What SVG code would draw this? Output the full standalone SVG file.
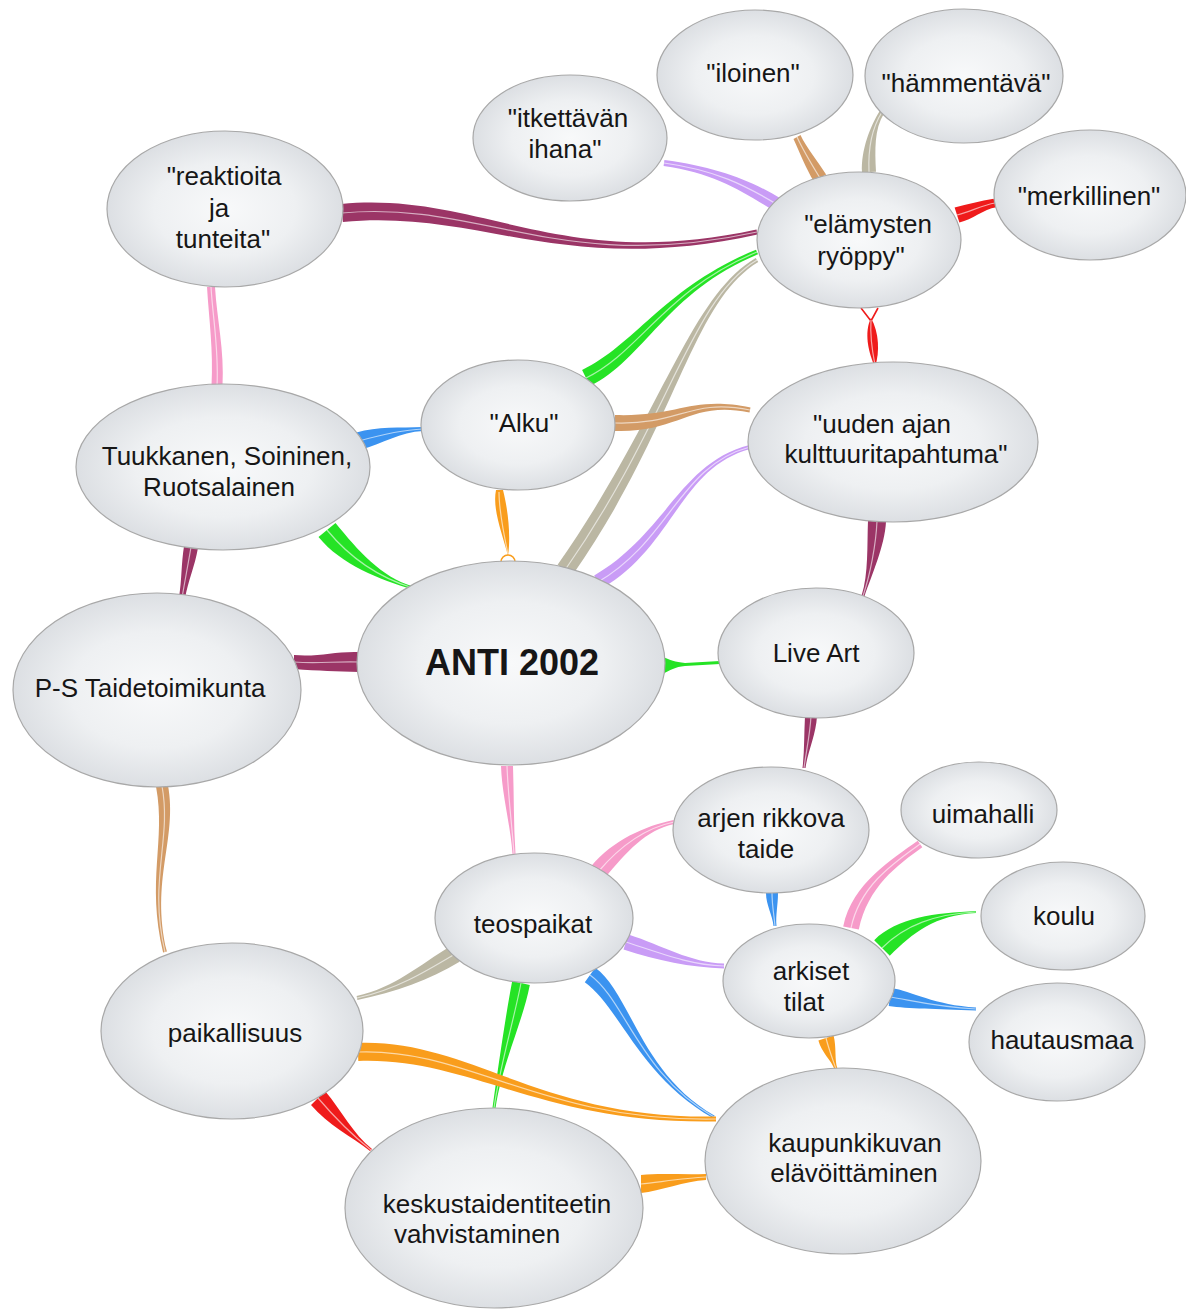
<svg xmlns="http://www.w3.org/2000/svg" width="1186" height="1309" viewBox="0 0 1186 1309">
<defs>
<radialGradient id="ng" cx="50%" cy="50%" r="50%">
<stop offset="0" stop-color="#f8f9fa"/>
<stop offset="0.6" stop-color="#eef0f2"/>
<stop offset="1" stop-color="#dcdfe3"/>
</radialGradient>
<style>
.mr{fill:#9b3566}.lv{fill:#c99cf6}.tn{fill:#d39b66}.gy{fill:#bbb7a3}.rd{fill:#ef1b1b}
.gn{fill:#25e325}.bl{fill:#3b93f0}.or{fill:#f99d1c}.pk{fill:#f69bc9}
.hl{fill:none;stroke:#fff;stroke-width:1.2;stroke-opacity:0.6}
.node ellipse{fill:url(#ng);stroke:#a8a8a8;stroke-width:1.2}
.node text{font-family:"Liberation Sans",Arial,sans-serif;font-size:26px;fill:#161616;text-anchor:middle}
.node text.big{font-size:36px;font-weight:bold}
</style>
</defs>
<rect width="1186" height="1309" fill="#fff"/>
<g id="connectors">
<path class="mr" d="M342.9,222 C480.9,209 560.5,277.4 757.5,234.4 L756.5,229.6 C559.5,272.6 479.1,191 341.1,204 Z"/>
<path class="hl" d="M342,213 C480,200 560,275 757,232"/>
<path class="lv" d="M663.6,166 C714.6,173 741.4,191 774.4,211 L781.6,199 C748.6,179 715.4,167 664.4,160 Z"/>
<path class="hl" d="M664,163 C715,170 745,185 778,205"/>
<path class="tn" d="M793.5,139 C799.5,152 805.9,168.4 813.9,181.4 L826.1,174.6 C818.1,161.6 806.5,148 800.5,135 Z"/>
<path class="hl" d="M797,137 C803,150 812,165 820,178"/>
<path class="gy" d="M879.9,110.7 C869.9,126.7 861,150.3 862,172.3 L876,171.7 C875,149.7 874.1,129.3 884.1,113.3 Z"/>
<path class="hl" d="M882,112 C872,128 868,150 869,172"/>
<path class="rd" d="M959.4,222.6 C972.4,219.6 983.4,209.3 996.4,207.3 L993.6,198.7 C980.6,200.7 967.6,204.4 954.6,207.4 Z"/>
<path class="hl" d="M957,215 C970,212 982,205 995,203"/>
<path class="rd" d="M871,318 C864,332 868,352 875,367 C880,352 879,332 871,318 Z"/>
<path d="M861,308 L871,321 L878,308" fill="none" stroke="#ef1b1b" stroke-width="1.6"/>
<path class="hl" d="M871,320 C870,335 872,350 875,365"/>
<path class="gn" d="M589.9,386.1 C643.9,360.1 666,292.3 758,254.3 L756,249.7 C664,287.7 636.1,343.9 582.1,369.9 Z"/>
<path class="hl" d="M586,378 C640,352 665,290 757,252"/>
<path class="gy" d="M755.7,257.9 C688.7,297.9 662.6,414.8 557.6,564.8 L572.4,575.2 C677.4,425.2 691.3,302.1 758.3,262.1 Z"/>
<path class="hl" d="M757,260 C690,300 670,420 565,570"/>
<path class="tn" d="M615,431 C680,433 689.5,400.5 749.5,412.5 L750.5,407.5 C690.5,395.5 680,417 615,415 Z"/>
<path class="hl" d="M615,423 C680,425 690,398 750,410"/>
<path class="lv" d="M749.5,445.1 C679.5,463.1 666.2,533.5 594.2,575.5 L601.8,588.5 C673.8,546.5 680.5,466.9 750.5,448.9 Z"/>
<path class="hl" d="M750,447 C680,465 670,540 598,582"/>
<path class="bl" d="M361.6,449.6 C382.6,443.6 400.1,432 423.1,431 L422.9,427 C399.9,428 377.4,426.4 356.4,432.4 Z"/>
<path class="hl" d="M359,441 C380,435 400,430 423,429"/>
<path class="or" d="M496,490 C492,510 503,535 508,556 C511,535 508,510 503,490 Z"/>
<circle cx="508" cy="562" r="7" fill="none" stroke="#f99d1c" stroke-width="1.6"/>
<path class="hl" d="M499,492 C499,512 504,535 508,554"/>
<path class="gn" d="M318.5,537 C341.5,565 379.6,579.4 412.6,589.4 L413.4,586.6 C380.4,576.6 358.5,551 335.5,523 Z"/>
<path class="hl" d="M327,530 C350,558 380,578 413,588"/>
<path class="pk" d="M207,287 C209,320 213.5,350 211.5,386 L222.5,386 C224.5,350 217,320 215,287 Z"/>
<path class="hl" d="M211,287 C213,320 219,350 217,386"/>
<path class="mr" d="M184.1,545.8 C181.1,563.8 182,579.5 179,597.5 L185,598.5 C188,580.5 194.9,566.2 197.9,548.2 Z"/>
<path class="hl" d="M191,547 C188,565 185,580 182,598"/>
<path class="mr" d="M294,669 C320,671 335,671 360,672 L360,652 C335,651 320,657 294,655 Z"/>
<path class="hl" d="M294,662 C320,664 335,661 360,662"/>
<path class="gn" d="M663,657 C670,660 675,662 685,663 L720,661 L720,664 L685,666 C675,667 670,670 663,674 Z"/>
<path class="mr" d="M868,520.6 C867,544.6 868.6,574.5 861.6,595.5 L864.4,596.5 C871.4,575.5 885,545.4 886,521.4 Z"/>
<path class="hl" d="M877,521 C876,545 870,575 863,596"/>
<path class="mr" d="M805,716 C804,735 804.5,752 802.5,768 L805.5,768 C807.5,752 816,735 817,716 Z"/>
<path class="hl" d="M811,716 C810,735 806,752 804,768"/>
<path class="pk" d="M501,766 C502,795 510.5,825 512.5,854 L515.5,854 C513.5,825 514,795 513,766 Z"/>
<path class="hl" d="M507,766 C508,795 512,825 514,854"/>
<path class="tn" d="M156.1,787.1 C166.1,841.1 146.1,880.5 163.1,952.5 L166.9,951.5 C149.9,879.5 177.9,838.9 167.9,784.9 Z"/>
<path class="hl" d="M162,786 C172,840 148,880 165,952"/>
<path class="pk" d="M604.9,877.8 C626.9,851.8 645.4,830 674.4,824 L673.6,820 C644.6,826 613.1,840.2 591.1,866.2 Z"/>
<path class="hl" d="M598,872 C620,846 645,828 674,822"/>
<path class="bl" d="M766,893 C766,905 772.5,915 773.5,926 L776.5,926 C775.5,915 778,905 778,893 Z"/>
<path class="hl" d="M772,893 C772,905 774,915 775,926"/>
<path class="pk" d="M917.7,840.8 C892.7,858.8 852.2,883.4 843.2,926.4 L858.8,929.6 C867.8,886.6 897.3,865.2 922.3,847.2 Z"/>
<path class="hl" d="M920,844 C895,862 860,885 851,928"/>
<path class="gn" d="M889.8,955.8 C912.8,932.8 935,915 976,913 L976,911 C935,913 897.2,917.2 874.2,940.2 Z"/>
<path class="hl" d="M882,948 C905,925 935,914 976,912"/>
<path class="bl" d="M888.7,1005.9 C908.7,1008.9 935,1008.5 976,1010.5 L976,1007.5 C935,1005.5 911.3,991.1 891.3,988.1 Z"/>
<path class="hl" d="M890,997 C910,1000 935,1007 976,1009"/>
<path class="lv" d="M623.5,949.6 C657.5,960.6 690,967.5 724,968.5 L724,963.5 C690,962.5 662.5,945.4 628.5,934.4 Z"/>
<path class="hl" d="M626,942 C660,953 690,965 724,966"/>
<path class="or" d="M818.4,1040.5 C821.4,1052.5 831.6,1060.5 834.6,1069.5 L837.4,1068.5 C834.4,1059.5 836.6,1047.5 833.6,1035.5 Z"/>
<path class="hl" d="M826,1038 C829,1050 833,1060 836,1069"/>
<path class="gy" d="M450.4,946.3 C420.4,964.3 394.6,988 356.6,996 L357.4,1000 C395.4,992 429.6,979.7 459.6,961.7 Z"/>
<path class="hl" d="M455,954 C425,972 395,990 357,998"/>
<path class="gn" d="M512.2,981.1 C505.2,1018.1 498.5,1064.7 492.5,1107.7 L495.5,1108.3 C501.5,1065.3 522.8,1021.9 529.8,984.9 Z"/>
<path class="hl" d="M521,983 C514,1020 500,1065 494,1108"/>
<path class="bl" d="M584.8,982.3 C619.8,1007.3 639.3,1076.3 713.3,1118.3 L714.7,1115.7 C640.7,1073.7 630.2,992.7 595.2,967.7 Z"/>
<path class="hl" d="M590,975 C625,1000 640,1075 714,1117"/>
<path class="or" d="M358.3,1061 C470.3,1057 540,1124.5 716,1121.5 L716,1116.5 C540,1119.5 469.7,1039 357.7,1043 Z"/>
<path class="hl" d="M358,1052 C470,1048 540,1122 716,1119"/>
<path class="rd" d="M311,1105.1 C328,1125.1 351,1136.1 370,1151.1 L372,1148.9 C353,1133.9 342,1110.9 325,1090.9 Z"/>
<path class="hl" d="M318,1098 C335,1118 352,1135 371,1150"/>
<path class="or" d="M641,1193 C660,1191 685,1181 706,1180 L706,1174 C685,1175 660,1173 641,1175 Z"/>
<path class="hl" d="M641,1184 C660,1182 685,1178 706,1177"/>
</g>
<g id="n-itkettavan" class="node"><ellipse cx="570" cy="138" rx="97" ry="63"/><text x="568" y="127">"itkettävän</text><text x="565" y="158">ihana"</text></g>
<g id="n-iloinen" class="node"><ellipse cx="755" cy="75" rx="98" ry="65"/><text x="753" y="82">"iloinen"</text></g>
<g id="n-hammentava" class="node"><ellipse cx="964" cy="76" rx="99" ry="67"/><text x="966" y="92">"hämmentävä"</text></g>
<g id="n-merkillinen" class="node"><ellipse cx="1090" cy="195" rx="96" ry="65"/><text x="1089" y="205">"merkillinen"</text></g>
<g id="n-elamysten" class="node"><ellipse cx="859" cy="240" rx="102" ry="68"/><text x="868" y="233">"elämysten</text><text x="861" y="265">ryöppy"</text></g>
<g id="n-reaktioita" class="node"><ellipse cx="225" cy="209" rx="118" ry="78"/><text x="224" y="185">"reaktioita</text><text x="219" y="217">ja</text><text x="223" y="248">tunteita"</text></g>
<g id="n-alku" class="node"><ellipse cx="518" cy="425" rx="97" ry="65"/><text x="524" y="432">"Alku"</text></g>
<g id="n-uuden" class="node"><ellipse cx="893" cy="442" rx="145" ry="80"/><text x="882" y="433">"uuden ajan</text><text x="896" y="463">kulttuuritapahtuma"</text></g>
<g id="n-tuukkanen" class="node"><ellipse cx="223" cy="467" rx="147" ry="83"/><text x="227" y="465">Tuukkanen, Soininen,</text><text x="219" y="496">Ruotsalainen</text></g>
<g id="n-anti" class="node"><ellipse cx="511" cy="663" rx="154" ry="102"/><text class="big" x="512" y="675">ANTI 2002</text></g>
<g id="n-liveart" class="node"><ellipse cx="816" cy="653" rx="98" ry="65"/><text x="816" y="662">Live Art</text></g>
<g id="n-ps" class="node"><ellipse cx="157" cy="690" rx="144" ry="97"/><text x="150" y="697">P-S Taidetoimikunta</text></g>
<g id="n-arjen" class="node"><ellipse cx="771" cy="830" rx="98" ry="63"/><text x="771" y="827">arjen rikkova</text><text x="766" y="858">taide</text></g>
<g id="n-uimahalli" class="node"><ellipse cx="979" cy="810" rx="78" ry="48"/><text x="983" y="823">uimahalli</text></g>
<g id="n-teospaikat" class="node"><ellipse cx="534" cy="918" rx="99" ry="65"/><text x="533" y="933">teospaikat</text></g>
<g id="n-koulu" class="node"><ellipse cx="1063" cy="916" rx="82" ry="54"/><text x="1064" y="925">koulu</text></g>
<g id="n-arkiset" class="node"><ellipse cx="809" cy="981" rx="86" ry="57"/><text x="811" y="980">arkiset</text><text x="804" y="1011">tilat</text></g>
<g id="n-hautausmaa" class="node"><ellipse cx="1057" cy="1042" rx="88" ry="59"/><text x="1062" y="1049">hautausmaa</text></g>
<g id="n-paikallisuus" class="node"><ellipse cx="232" cy="1031" rx="131" ry="88"/><text x="235" y="1042">paikallisuus</text></g>
<g id="n-kaupunkikuvan" class="node"><ellipse cx="843" cy="1161" rx="138" ry="93"/><text x="855" y="1152">kaupunkikuvan</text><text x="854" y="1182">elävöittäminen</text></g>
<g id="n-keskus" class="node"><ellipse cx="494" cy="1208" rx="149" ry="100"/><text x="497" y="1213">keskustaidentiteetin</text><text x="477" y="1243">vahvistaminen</text></g>
</svg>
